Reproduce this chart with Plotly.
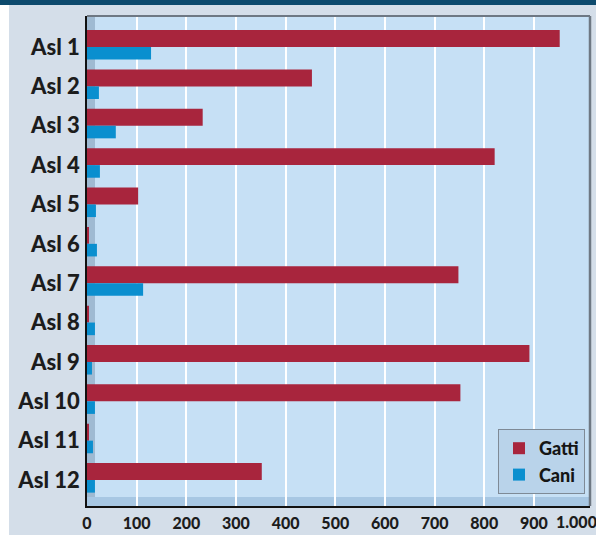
import plotly.graph_objects as go

categories = ["Asl 1", "Asl 2", "Asl 3", "Asl 4", "Asl 5", "Asl 6",
              "Asl 7", "Asl 8", "Asl 9", "Asl 10", "Asl 11", "Asl 12"]
gatti = [952, 453, 233, 821, 103, 4, 748, 4, 891, 752, 4, 352]
cani = [129, 24, 58, 26, 18, 20, 113, 16, 10, 16, 12, 16]
tick_vals = [0, 100, 200, 300, 400, 500, 600, 700, 800, 900, 1000]
tick_text = ["0", "100", "200", "300", "400", "500", "600", "700", "800", "900", "1.000"]

RED = "#a8253d"
BLUE = "#0a8fcf"
FONT = "Lato Black, Lato"

fig = go.Figure()
fig.add_trace(go.Bar(y=categories, x=gatti, orientation="h", name="Gatti",
                     width=0.43, offset=-0.43,
                     marker=dict(color=RED, line=dict(width=0))))
fig.add_trace(go.Bar(y=categories, x=cani, orientation="h", name="Cani",
                     width=0.32, offset=0.0,
                     marker=dict(color=BLUE, line=dict(width=0))))

W, H = 596, 535
L, R, T, B = 87, 6, 16, 29
PW, PH = W - L - R, H - T - B
TICKFONT = dict(family=FONT, size=16, color="#1c1c1c", weight=900)

fig.update_layout(
    width=W, height=H,
    margin=dict(l=L, r=R, t=T, b=B, pad=0, autoexpand=False),
    paper_bgcolor="#d4dee9",
    plot_bgcolor="#c6e0f5",
    barmode="overlay",
    font=dict(family=FONT, color="#1c1c1c", weight=900),
    legend=dict(
        x=(585 - L) / PW, y=(H - B - 429) / PH, xanchor="right", yanchor="top",
        bgcolor="#b9d3ea", bordercolor="#7e8a96", borderwidth=1,
        font=dict(family=FONT, size=18, color="#151515", weight=900),
        traceorder="normal", itemwidth=30, tracegroupgap=0,
    ),
    xaxis=dict(
        range=[0, 1013],
        automargin=False,
        tickvals=tick_vals[:-1], ticktext=tick_text[:-1],
        showgrid=True, gridcolor="#ffffff", gridwidth=1.5,
        zeroline=False,
        showline=True, linecolor="#111111", linewidth=1.5,
        ticks="", ticklabelstandoff=2,
        tickfont=TICKFONT,
        fixedrange=True,
    ),
    yaxis=dict(
        autorange=False,
        automargin=False,
        range=[11.66, -0.788],
        showgrid=False, zeroline=False,
        showline=True, linecolor="#111111", linewidth=1.5,
        ticks="", ticklabelstandoff=1,
        tickfont=dict(family=FONT, size=22, color="#1c1c1c", weight=900),
        fixedrange=True,
    ),
    annotations=[
        # last x tick label, nudged left so that it stays inside the page
        dict(x=tick_vals[-1], xref="x", y=0, yref="paper",
             text=tick_text[-1], showarrow=False,
             xanchor="center", yanchor="top", xshift=-7, yshift=-4,
             font=TICKFONT),
    ],
    shapes=[
        dict(type="rect", xref="paper", yref="paper",
             x0=-L / PW, x1=(9 - L) / PW,
             y0=-B / PH, y1=1 + T / PH,
             fillcolor="#ffffff", line=dict(width=0), layer="below"),
        dict(type="rect", xref="paper", yref="paper",
             x0=-L / PW, x1=1 + R / PW,
             y0=1 + (T - 5) / PH, y1=1 + T / PH,
             fillcolor="#0d4a6d", line=dict(width=0), layer="above"),
        dict(type="rect", xref="paper", yref="paper",
             x0=0, x1=8 / PW, y0=0, y1=1,
             fillcolor="#9fbad2", line=dict(width=0), layer="below"),
        dict(type="rect", xref="paper", yref="paper",
             x0=0, x1=1, y0=0, y1=9 / PH,
             fillcolor="#a7c7e3", line=dict(width=0), layer="below"),
        dict(type="line", xref="paper", yref="paper",
             x0=0, x1=1, y0=1, y1=1, line=dict(color="#6e7883", width=2)),
        dict(type="line", xref="paper", yref="paper",
             x0=1, x1=1, y0=0, y1=1, line=dict(color="#6e7883", width=2.5)),
    ],
)

fig.write_html("out.html",
               config={"displayModeBar": False},
               post_script="document.body.style.margin='0';document.body.style.overflow='hidden';")
